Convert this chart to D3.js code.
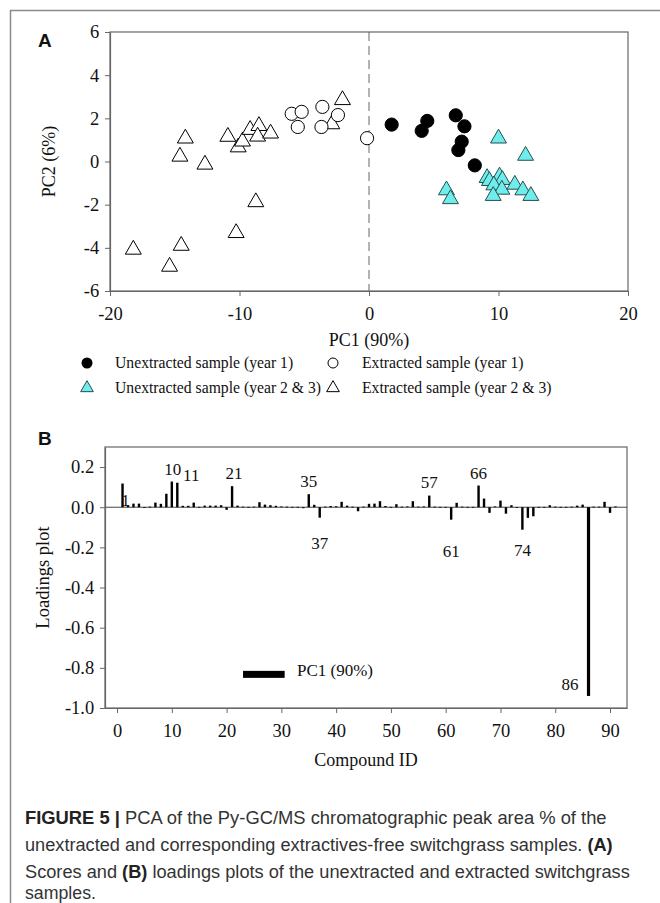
<!DOCTYPE html>
<html><head><meta charset="utf-8">
<script src="https://cdn.jsdelivr.net/npm/d3@7"></script>
<style>body{margin:0;background:#fff} svg{display:block}</style>
</head><body>
<svg id="c" width="660" height="903"></svg>
<script>
// ---------- DATA ----------
// Panel A: PCA scores [PC1, PC2]
const unextractedYear1 = [[1.75,1.71],[4.5,1.88],[4.07,1.42],[6.7,2.14],[7.37,1.63],[7.16,0.92],[6.9,0.53],[8.17,-0.18]];
const extractedYear1 = [[-5.97,2.21],[-5.2,2.3],[-5.5,1.6],[-3.6,2.53],[-3.67,1.6],[-2.4,2.15],[-0.15,1.08]];
const unextractedYear23 = [[10.0,1.07],[12.09,0.27],[5.98,-1.33],[6.29,-1.74],[9.12,-0.76],[9.3,-0.9],[10.08,-0.69],[10.3,-0.85],[9.64,-1.1],[10.26,-1.3],[9.59,-1.59],[11.26,-1.07],[11.88,-1.33],[12.5,-1.59]];
const extractedYear23 = [[-14.18,1.07],[-14.6,0.23],[-12.67,-0.14],[-10.9,1.15],[-10.1,0.66],[-9.77,0.93],[-9.18,1.47],[-8.5,1.65],[-8.6,1.16],[-7.6,1.3],[-8.74,-1.88],[-10.26,-3.31],[-14.5,-3.9],[-18.2,-4.08],[-15.4,-4.87],[-2.87,1.73],[-2.05,2.85]];
const scoreXTicks = [-20,-10,0,10,20];
const scoreYTicks = [-6,-4,-2,0,2,4,6];
const legendLabels = ["Unextracted sample (year 1)","Extracted sample (year 1)","Unextracted sample (year 2 & 3)","Extracted sample (year 2 & 3)"];

// Panel B: PC1 loadings, compound IDs 1..91
const compoundIds = d3.range(1,92);
const pc1Loadings = [
 0.118,0.010,0.018,0.018,0.000,0.003,0.023,0.017,0.067,0.128,
 0.122,0.007,0.007,0.023,0.002,0.008,0.008,0.008,0.010,-0.013,
 0.105,0.008,0.003,0.002,0.003,0.025,0.013,0.010,0.007,0.004,
 0.003,0.002,0.002,-0.005,0.065,0.012,-0.052,0.003,0.006,0.005,
 0.027,0.008,0.003,-0.020,0.003,0.017,0.018,0.030,0.006,0.002,
 0.015,0.003,0.004,0.030,0.003,0.004,0.058,0.003,0.002,0.002,
 -0.062,0.022,0.003,0.002,0.002,0.108,0.043,-0.028,0.004,0.033,
 -0.032,0.010,-0.004,-0.112,-0.053,-0.045,0.002,0.002,0.010,0.003,
 0.002,0.002,0.003,0.008,0.013,-0.940,0.003,0.003,0.027,-0.028,0.004];
const loadXTicks = [0,10,20,30,40,50,60,70,80,90];
const loadYTicks = [-1.0,-0.8,-0.6,-0.4,-0.2,0.0,0.2];
const labelledIds = [1,10,11,21,35,37,57,61,66,74,86];

const captionLines = [
 [["FIGURE 5 | ",true],["PCA of the Py-GC/MS chromatographic peak area % of the",false]],
 [["unextracted and corresponding extractives-free switchgrass samples. ",false],["(A)",true]],
 [["Scores and ",false],["(B)",true],[" loadings plots of the unextracted and extracted switchgrass",false]],
 [["samples.",false]]
];

// ---------- DRAW ----------
const svg = d3.select("#c");
const serif = "'Liberation Serif','Times New Roman',serif";
const sans = "'Liberation Sans',Arial,sans-serif";
const hy = v => String(v).replace("\u2212","-");

// figure border
svg.append("path").attr("d","M10.5,903 V10.5 H660").attr("fill","none").attr("stroke","#8a8a8a").attr("stroke-width",1.5);

function styleAxis(a){
  a.attr("font-family",null).attr("font-size",null);
  a.select(".domain").attr("stroke","#666").attr("stroke-width",1.2);
  a.selectAll(".tick line").attr("stroke","#666");
  a.selectAll("text").style("font-family",serif).style("font-size","18.5px").attr("fill","#111");
}

// ===== Panel A =====
const A = {l:110,r:628,t:32,b:291};
const xA = d3.scaleLinear().domain([-20,20]).range([A.l,A.r]);
const yA = d3.scaleLinear().domain([-6,6]).range([A.b,A.t]);
const gA = svg.append("g");
gA.append("rect").attr("x",A.l).attr("y",A.t).attr("width",A.r-A.l).attr("height",A.b-A.t)
  .attr("fill","none").attr("stroke","#666").attr("stroke-width",1.2);
gA.append("line").attr("x1",xA(0)).attr("x2",xA(0)).attr("y1",A.t).attr("y2",A.b)
  .attr("stroke","#666").attr("stroke-width",1).attr("stroke-dasharray","9,5");
const axA_x = gA.append("g").attr("transform",`translate(0,${A.b})`)
  .call(d3.axisBottom(xA).tickValues(scoreXTicks).tickSize(5).tickSizeOuter(0).tickFormat(d=>hy(d)));
const axA_y = gA.append("g").attr("transform",`translate(${A.l},0)`)
  .call(d3.axisLeft(yA).tickValues(scoreYTicks).tickSize(5).tickSizeOuter(0).tickFormat(d=>hy(d)));
styleAxis(axA_x); styleAxis(axA_y);
axA_x.selectAll("text").attr("dy","1.15em");
axA_y.selectAll("text").attr("dx","-0.15em");
gA.append("text").attr("x",(A.l+A.r)/2).attr("y",346).attr("text-anchor","middle")
  .style("font-family",serif).style("font-size","18px").attr("fill","#111").text("PC1 (90%)");
gA.append("text").attr("transform",`translate(55,${(A.t+A.b)/2}) rotate(-90)`).attr("text-anchor","middle")
  .style("font-family",serif).style("font-size","18px").attr("fill","#111").text("PC2 (6%)");
svg.append("text").attr("x",38).attr("y",47).style("font-family",sans).attr("font-weight","bold")
  .style("font-size","19px").attr("fill","#111").text("A");

const tri = d3.symbol().type(d3.symbolTriangle).size(110);
function circles(data, fill){
  gA.selectAll(null).data(data).enter().append("circle")
    .attr("cx",d=>xA(d[0])).attr("cy",d=>yA(d[1])).attr("r",6.6)
    .attr("fill",fill).attr("stroke","#000").attr("stroke-width",1);
}
function triangles(data, fill, stroke){
  gA.selectAll(null).data(data).enter().append("path").attr("d",tri)
    .attr("transform",d=>`translate(${xA(d[0])},${yA(d[1])})`)
    .attr("fill",fill).attr("stroke",stroke).attr("stroke-width",1);
}
triangles(extractedYear23,"#fff","#000");
circles(extractedYear1,"#fff");
circles(unextractedYear1,"#000");
triangles(unextractedYear23,"#70ECEC","#24504f");

// legend A
const legPos = [[87,115,368],[333,362,368],[87,115,393],[333,362,393]];
legendLabels.forEach((lab,i)=>{
  const [sx,tx,ly]=legPos[i];
  if(i===0) svg.append("circle").attr("cx",sx).attr("cy",ly-5).attr("r",5.5).attr("fill","#000");
  if(i===1) svg.append("circle").attr("cx",sx).attr("cy",ly-5).attr("r",5).attr("fill","#fff").attr("stroke","#000");
  if(i===2) svg.append("path").attr("d",d3.symbol().type(d3.symbolTriangle).size(70)).attr("transform",`translate(${sx},${ly-5})`).attr("fill","#70ECEC").attr("stroke","#24504f");
  if(i===3) svg.append("path").attr("d",d3.symbol().type(d3.symbolTriangle).size(70)).attr("transform",`translate(${sx},${ly-5})`).attr("fill","#fff").attr("stroke","#000");
  svg.append("text").attr("x",tx).attr("y",ly).style("font-family",serif).style("font-size","15.7px").attr("fill","#111").text(lab);
});

// ===== Panel B =====
const B = {l:105,r:627,t:447,b:708};
const xB = d3.scaleLinear().domain([-2.2,93.1]).range([B.l,B.r]);
const yB = d3.scaleLinear().domain([-1.0,0.3]).range([B.b,B.t]);
const gB = svg.append("g");
gB.append("rect").attr("x",B.l).attr("y",B.t).attr("width",B.r-B.l).attr("height",B.b-B.t)
  .attr("fill","none").attr("stroke","#666").attr("stroke-width",1.2);
gB.append("line").attr("x1",B.l).attr("x2",B.r).attr("y1",yB(0)).attr("y2",yB(0))
  .attr("stroke","#444").attr("stroke-width",1);
const axB_x = gB.append("g").attr("transform",`translate(0,${B.b})`)
  .call(d3.axisBottom(xB).tickValues(loadXTicks).tickSize(5).tickSizeOuter(0));
const axB_y = gB.append("g").attr("transform",`translate(${B.l},0)`)
  .call(d3.axisLeft(yB).tickValues(loadYTicks).tickSize(5).tickSizeOuter(0).tickFormat(d=>hy(d3.format(".1f")(d))));
styleAxis(axB_x); styleAxis(axB_y);
axB_x.selectAll("text").attr("dy","1.15em");
axB_y.selectAll("text").attr("dx","-0.15em");
gB.append("text").attr("x",(B.l+B.r)/2).attr("y",766).attr("text-anchor","middle")
  .style("font-family",serif).style("font-size","18px").attr("fill","#111").text("Compound ID");
gB.append("text").attr("transform",`translate(49,${(B.t+B.b)/2}) rotate(-90)`).attr("text-anchor","middle")
  .style("font-family",serif).style("font-size","18.5px").attr("fill","#111").text("Loadings plot");
svg.append("text").attr("x",38).attr("y",445).style("font-family",sans).attr("font-weight","bold")
  .style("font-size","19px").attr("fill","#111").text("B");

const bw = 2.4;
gB.selectAll(".bar").data(compoundIds).enter().append("rect")
  .attr("x",d=>xB(d)-bw/2).attr("width",d=>d===86?3.2:bw)
  .attr("y",(d,i)=>yB(Math.max(0,pc1Loadings[i])))
  .attr("height",(d,i)=>Math.max(0.8,Math.abs(yB(pc1Loadings[i])-yB(0))))
  .attr("fill","#000");

// bar labels
const labOff = {1:[3,22],10:[1,-7],11:[14,-2],21:[2,-7],35:[0,-7],37:[0,25],57:[0,-8],61:[0,31],66:[0,-7],74:[0,20],86:[-18,-6]};
labelledIds.forEach(id=>{
  const v = pc1Loadings[id-1];
  const [dx,dy] = labOff[id];
  const yy = id===86 ? yB(v)+dy : (v>=0 ? yB(v)+dy : yB(v)+dy+6);
  svg.append("text").attr("x",xB(id)+dx).attr("y",yy).attr("text-anchor","middle")
    .style("font-family",serif).style("font-size","17px").attr("fill","#111").text(id);
});

// legend B
svg.append("rect").attr("x",xB(23)).attr("y",yB(-0.815)).attr("width",xB(30.6)-xB(23)).attr("height",7).attr("fill","#000");
svg.append("text").attr("x",297).attr("y",yB(-0.835)+1).style("font-family",serif).style("font-size","17px").attr("fill","#111").text("PC1 (90%)");

// caption (scaled horizontally to match the condensed reference face)
const capY = [824,851,878,899];
const capLen = [582,588,605,71];
captionLines.forEach((parts,i)=>{
  const g = svg.append("g");
  const t = g.append("text").attr("x",0).attr("y",0).style("font-family",sans).style("font-size","18.5px").attr("fill","#333");
  parts.forEach(([s,b])=>t.append("tspan").attr("font-weight",b?"bold":"normal").attr("fill",b?"#222":"#333").text(s));
  const w = t.node().getComputedTextLength() || capLen[i];
  g.attr("transform",`translate(25,${capY[i]}) scale(${capLen[i]/w},1)`);
});
</script>
</body></html>
